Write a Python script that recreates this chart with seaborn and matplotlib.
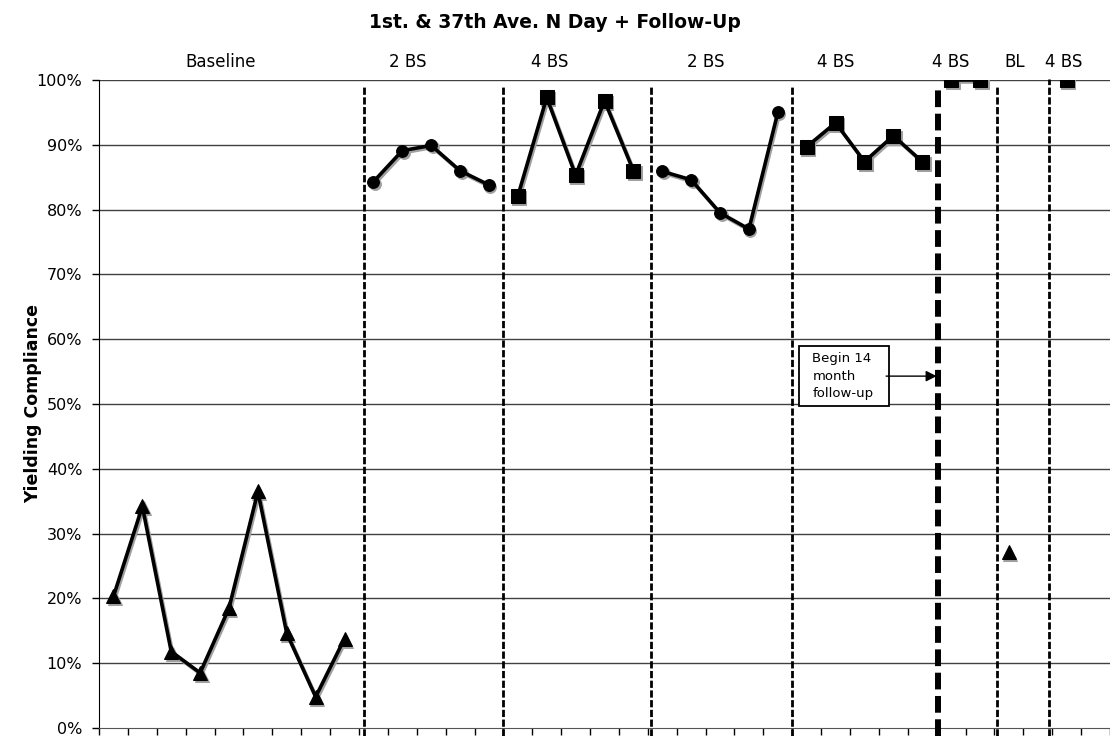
import pandas as pd
import matplotlib.pyplot as plt
import matplotlib.transforms as mtransforms
from matplotlib.patches import Rectangle
import seaborn as sns
import numpy as np

# session values per phase (percent)
baseline_vals = [20.3, 34.2, 11.8, 8.5, 18.5, 36.5, 14.6, 4.8, 13.8]
bs2_a_vals = [84.3, 89.1, 89.9, 86.0, 83.8]
bs4_a_vals = [82.1, 97.3, 85.3, 96.8, 86.0]
bs2_b_vals = [85.9, 84.6, 79.5, 77.0, 95.0]
bs4_b_vals = [89.7, 93.4, 87.4, 91.4, 87.4]
bs4_fu_vals = [100.0, 100.0]
bl_fu_vals = [27.2]
bs4_fu2_vals = [100.0]

phase_names = ["Baseline", "2 BS", "4 BS", "2 BS", "4 BS", "4 BS", "BL", "4 BS"]
phase_label_x = [3.7, 10.2, 15.1, 20.5, 25.0, 29.0, 31.2, 32.9]
phase_breaks = [8.66, 13.49, 18.6, 23.5, 28.55, 30.58, 32.39]
n_sessions = 35

series = [
    (0, baseline_vals, "^", 10),
    (9, bs2_a_vals, "o", 8.5),
    (14, bs4_a_vals, "s", 9.5),
    (19, bs2_b_vals, "o", 8.5),
    (24, bs4_b_vals, "s", 9.5),
    (29, bs4_fu_vals, "s", 9.5),
    (31, bl_fu_vals, "^", 10),
    (33, bs4_fu2_vals, "s", 9.5),
]

sns.set_style("white")
plt.rcParams['font.family'] = ['DejaVu Sans']
plt.rcParams.update({"text.color": "black", "axes.labelcolor": "black",
                     "xtick.color": "black", "ytick.color": "black"})

fig = plt.figure(figsize=(11.1, 7.36), dpi=100)
ax = fig.add_axes([0.0892, 0.0109, 0.9108, 0.8804])

shadow = ax.transData + mtransforms.ScaledTranslation(1.5 / 100, -2 / 100, fig.dpi_scale_trans)

for start, vals, mk, ms in series:
    df = pd.DataFrame({"session": np.arange(start, start + len(vals)), "value": vals})
    n = len(ax.lines)
    sns.lineplot(data=df, x="session", y="value", ax=ax, color="#a0a0a0", lw=2.6,
                 marker=mk, markersize=ms, markeredgecolor="#a0a0a0", markerfacecolor="#a0a0a0")
    for ln in ax.lines[n:]:
        ln.set_transform(shadow)
    sns.lineplot(data=df, x="session", y="value", ax=ax, color="black", lw=2.6,
                 marker=mk, markersize=ms, markeredgecolor="black", markerfacecolor="black")

# gridlines
for g in range(10, 101, 10):
    ax.axhline(g, color="black", lw=1, alpha=0.75, zorder=0)

# phase change lines
for i, b in enumerate(phase_breaks):
    if i == 4:
        ax.plot([b, b], [-1.3, 99.4], color="black", lw=4.3, dashes=(2.8, 1.1),
                clip_on=False, zorder=3)
    else:
        top = 100.1 if i == 6 else 99.1
        ax.plot([b, b], [-1.3, top], color="black", lw=2.0, dashes=(2.6, 0.9),
                clip_on=False, zorder=3)

ax.set_xlim(-0.5, 34.36)
ax.set_ylim(0, 100)
ax.set_xticks(np.arange(-0.5, n_sessions, 1))
ax.set_xticklabels([])
ax.set_yticks(np.arange(0, 101, 10))
ax.set_yticklabels([f"{v}%" for v in range(0, 101, 10)], fontsize=11.5)
ax.tick_params(axis="both", direction="out", length=5, width=1, color="black",
               bottom=True, left=True)
ax.tick_params(axis="y", pad=7)
for side in ["top", "right"]:
    ax.spines[side].set_visible(False)
ax.spines["left"].set_color("black")
ax.spines["bottom"].set_color("#555555")
ax.set_xlabel("")
ax.set_ylabel("Yielding Compliance", fontsize=12.5, fontweight="bold", labelpad=-4)

trans = mtransforms.blended_transform_factory(ax.transData, ax.transAxes)
for name, x in zip(phase_names, phase_label_x):
    ax.text(x, 1.028, name, transform=trans, ha="center", va="center", fontsize=12)

fig.text(0.5, 0.970, "1st. & 37th Ave. N Day + Follow-Up", ha="center", va="center",
         fontsize=13.5, fontweight="bold")

# follow-up note
ax.add_patch(Rectangle((23.75, 49.7), 3.1, 9.25, fc="white", ec="black", lw=1.3, zorder=4))
ax.text(24.2, 54.3, "Begin 14\nmonth\nfollow-up", ha="left", va="center",
        fontsize=9.5, linespacing=1.45, zorder=5)
ax.annotate("", xy=(28.5, 54.3), xytext=(26.75, 54.3),
            arrowprops=dict(arrowstyle="-|>", color="black", lw=1, mutation_scale=16,
                            shrinkA=0, shrinkB=0),
            zorder=5)

fig.savefig("out.png", dpi=100)
